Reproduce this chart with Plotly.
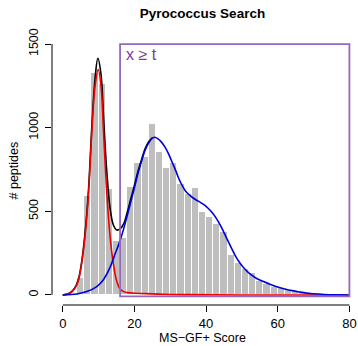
import plotly.graph_objects as go

# ---------------- data ----------------
bin_starts = [4, 6, 8, 10, 12, 14, 16, 18, 20, 22, 24, 26, 28, 30, 32, 34, 36, 38, 40,
              42, 44, 46, 48, 50, 52, 54, 56, 58, 60, 62, 64, 66, 68, 70, 72]
counts = [100, 590, 1325, 1262, 636, 320, 340, 647, 787, 825, 1022, 857, 760, 790, 665,
          605, 638, 498, 468, 426, 377, 239, 189, 155, 130, 86, 64, 50, 42, 30, 17, 10, 6, 3, 2]
bin_width = 2

mix_x = [0, 2, 3.4, 4.4, 5.3, 6.2, 7.2, 8.1, 9.0, 9.8, 10.7, 11.4, 12.3, 13.2, 14.1, 15.1,
         16.0, 17, 18, 19, 20, 21, 22, 23, 24, 25]
mix_y = [0, 12, 44, 96, 200, 365, 632, 1000, 1290, 1415, 1315, 1055, 735, 520, 420, 388,
         395, 425, 495, 575, 655, 739, 810, 875, 916, 940]

red_x = [0, 2, 3.4, 4.4, 5.3, 6.2, 7.2, 8.1, 9.0, 9.9, 10.7, 11.4, 12.3, 13.2, 14.1, 15.1,
         16.0, 17, 18, 20, 23, 28, 35, 50, 80]
red_y = [0, 10, 40, 90, 190, 350, 608, 967, 1245, 1348, 1245, 967, 608, 350, 190, 80,
         35, 20, 14, 10, 8, 4, 2, 0, 0]

blue_x = [0, 4, 6.7, 9.5, 11.3, 13.2, 14.6, 15.5, 16.2, 17, 18, 19, 20, 21, 22, 23, 24, 25,
          25.7, 26.5, 27.5, 28.5, 29.5, 30.5, 31.5, 32.5, 33.5, 34.5, 35.5, 36.5, 37.5, 38.5,
          39.5, 40.5, 41.5, 42.5, 43.5, 44.5, 45.5, 46.5, 47.5, 48.5, 49.5, 50.5, 52, 54, 56,
          58, 60, 62, 64, 66, 68, 70, 73, 76, 80]
blue_y = [0, 6, 20, 50, 90, 165, 245, 295, 339, 395, 475, 558, 640, 727, 800, 867, 910, 937,
          943, 935, 915, 885, 845, 795, 745, 690, 648, 615, 595, 578, 565, 552,
          538, 520, 498, 470, 435, 395, 350, 305, 262, 222, 190, 163, 130, 100, 80,
          63, 48, 36, 26, 18, 11, 7, 3, 1, 0]

threshold = 16
x_max = 80
y_max = 1500
x_ticks = [0, 20, 40, 60, 80]
y_ticks = [0, 500, 1000, 1500]

FONT = "Liberation Sans, Arial, Helvetica, sans-serif"

fig = go.Figure()
fig.add_trace(go.Bar(
    x=[b + bin_width / 2 for b in bin_starts], y=counts, width=bin_width,
    marker=dict(color="#BEBEBE", line=dict(color="white", width=1)),
    hoverinfo="skip"))
fig.add_trace(go.Scatter(x=mix_x, y=mix_y, mode="lines",
                         line=dict(color="black", width=1.6, shape="spline")))
fig.add_trace(go.Scatter(x=red_x, y=red_y, mode="lines",
                         line=dict(color="#EE0000", width=1.6, shape="spline")))
fig.add_trace(go.Scatter(x=blue_x, y=blue_y, mode="lines",
                         line=dict(color="#0000DD", width=1.6, shape="spline")))

# threshold region
fig.add_shape(type="rect", xref="x", yref="y", x0=threshold, x1=x_max, y0=-8, y1=y_max,
              line=dict(color="#9466BE", width=1.8), fillcolor="rgba(0,0,0,0)")
fig.add_annotation(x=threshold + 1, y=1436, xref="x", yref="y", text="x ≥ t",
                   showarrow=False, xanchor="left", yanchor="middle",
                   font=dict(family=FONT, size=16, color="#7D3C98"))

# R-style axis lines spanning first to last tick
fig.add_shape(type="line", xref="x", yref="y domain", x0=x_ticks[0], x1=x_ticks[-1],
              y0=0, y1=0, line=dict(color="black", width=1))
fig.add_shape(type="line", xref="x domain", yref="y", x0=0, x1=0,
              y0=y_ticks[0], y1=y_ticks[-1], line=dict(color="black", width=1))

fig.update_layout(
    width=358, height=346,
    margin=dict(l=52, r=0, t=34, b=41),
    paper_bgcolor="white", plot_bgcolor="white",
    showlegend=False, bargap=0,
    font=dict(family=FONT, size=12.5, color="black"),
    title=dict(text="<b>Pyrococcus Search</b>", x=202.5 / 358, xanchor="center",
               xref="container", y=1 - 13.5 / 346, yanchor="middle",
               font=dict(family=FONT, size=13.5, color="black")),
    xaxis=dict(range=[-3.0, 82.4], showgrid=False, zeroline=False, showline=False,
               tickmode="array", tickvals=x_ticks, ticks="outside", ticklen=6,
               tickcolor="black", tickfont=dict(size=13)),
    yaxis=dict(range=[-60, 1560], showgrid=False, zeroline=False, showline=False,
               tickmode="array", tickvals=y_ticks, ticks="outside", ticklen=6,
               tickcolor="black", tickangle=-90, tickfont=dict(size=12.5),
               ticklabelstandoff=2),
)
fig.add_annotation(text="MS−GF+ Score", xref="paper", yref="paper",
                   x=(202 - 52) / 306, y=-(345.5 - 305) / 271, showarrow=False,
                   xanchor="center", yanchor="bottom", borderpad=0, font=dict(size=12.5))
fig.add_annotation(text="# peptides", xref="paper", yref="paper", textangle=-90,
                   x=-(52 - 13.5) / 306, y=(305 - 171) / 271, showarrow=False,
                   xanchor="center", yanchor="middle", font=dict(size=12.5))

fig.write_html("out.html")
